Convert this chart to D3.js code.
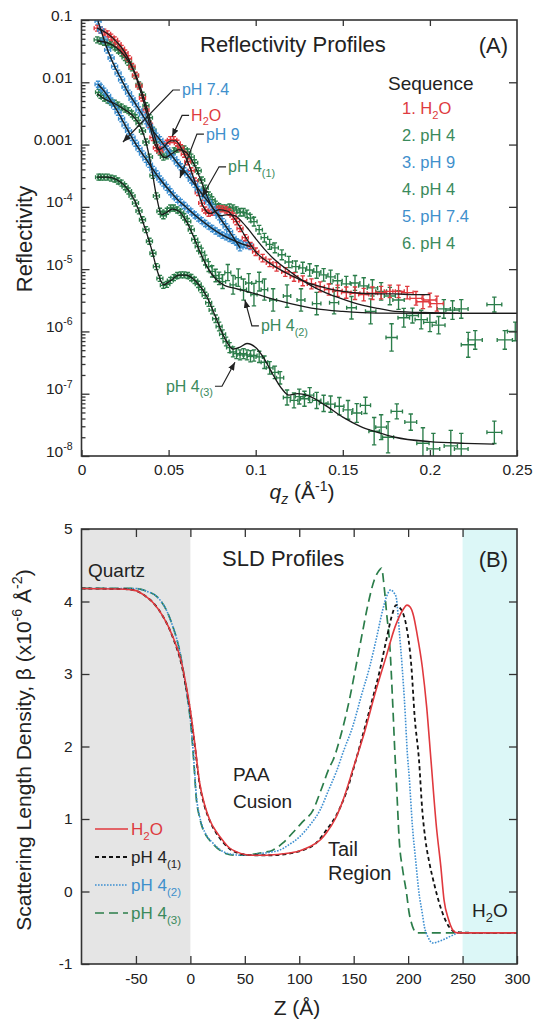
<!DOCTYPE html>
<html><head><meta charset="utf-8">
<script src="https://cdn.jsdelivr.net/npm/d3@7"></script>
<style>
body{margin:0;background:#fff}
svg{display:block}
text{font-family:"Liberation Sans",Arial,Helvetica,sans-serif;fill:#222}
</style></head>
<body><svg id="c" width="538" height="1026"></svg>
<script>
// ---------------- DATA : Reflectivity (q in 1/Å, R, error in decades) ----------------
const h2oData = [[0.009,7.4e-2,.02],[0.011,6.9e-2,.02],[0.013,6.4e-2,.02],[0.015,6.0e-2,.02],[0.017,5.3e-2,.02],[0.019,4.8e-2,.02],[0.021,4.1e-2,.02],[0.023,3.5e-2,.02],[0.025,2.95e-2,.02],[0.027,2.4e-2,.02],[0.029,1.8e-2,.02],[0.031,1.3e-2,.02],[0.033,8.7e-3,.02],[0.035,5.6e-3,.02],[0.037,3.6e-3,.02],[0.039,2.1e-3,.03],[0.041,1.3e-3,.03],[0.043,8.9e-4,.03],[0.045,7.9e-4,.03],[0.047,9.2e-4,.03],[0.049,1.05e-3,.03],[0.051,1.2e-3,.03],[0.053,1.2e-3,.03],[0.055,1.05e-3,.03],[0.057,8.9e-4,.03],[0.059,7.0e-4,.03],[0.061,5.3e-4,.03],[0.063,3.8e-4,.03],[0.065,2.6e-4,.04],[0.067,1.7e-4,.04],[0.069,1.15e-4,.04],[0.071,8.9e-5,.04],[0.073,7.9e-5,.04],[0.075,8.2e-5,.04],[0.077,8.9e-5,.04],[0.079,9.3e-5,.04],[0.081,9.3e-5,.04],[0.083,8.9e-5,.04],[0.085,8.2e-5,.05],[0.087,7.1e-5,.05],[0.089,5.8e-5,.05],[0.091,4.5e-5,.05],[0.094,3.2e-5,.05],[0.097,2.4e-5,.05],[0.100,1.9e-5,.06],[0.104,1.5e-5,.06],[0.108,1.26e-5,.06],[0.112,1.09e-5,.07],[0.117,9.0e-6,.07],[0.122,7.5e-6,.07],[0.127,6.5e-6,.08],[0.132,5.8e-6,.08],[0.137,5.2e-6,.08],[0.142,4.7e-6,.09],[0.147,4.5e-6,.09],[0.152,4.2e-6,.09],[0.157,4.1e-6,.1],[0.162,3.9e-6,.1],[0.167,4.1e-6,.1],[0.172,4.2e-6,.1],[0.177,4.4e-6,.1],[0.182,4.4e-6,.1],[0.187,4.2e-6,.1],[0.192,3.4e-6,.11],[0.196,3.0e-6,.11],[0.200,3.2e-6,.11],[0.204,2.8e-6,.12]];
const ph4aData = [[0.009,4.8e-2,.02],[0.011,4.6e-2,.02],[0.013,4.4e-2,.02],[0.015,4.3e-2,.02],[0.017,4.0e-2,.02],[0.019,3.7e-2,.02],[0.021,3.3e-2,.02],[0.023,2.95e-2,.02],[0.025,2.5e-2,.02],[0.027,2.1e-2,.02],[0.029,1.7e-2,.02],[0.031,1.27e-2,.02],[0.033,9.1e-3,.02],[0.035,6.2e-3,.02],[0.037,4.2e-3,.02],[0.039,2.7e-3,.03],[0.041,1.7e-3,.03],[0.043,1.1e-3,.03],[0.045,7.6e-4,.03],[0.047,6.3e-4,.03],[0.049,6.6e-4,.03],[0.051,7.1e-4,.03],[0.053,7.9e-4,.03],[0.055,8.5e-4,.03],[0.057,8.9e-4,.03],[0.059,8.5e-4,.03],[0.061,7.6e-4,.03],[0.063,6.3e-4,.03],[0.065,5.1e-4,.04],[0.067,3.8e-4,.04],[0.069,2.7e-4,.04],[0.071,2.0e-4,.04],[0.073,1.55e-4,.04],[0.075,1.3e-4,.04],[0.077,1.1e-4,.05],[0.079,1.0e-4,.05],[0.081,9.6e-5,.05],[0.083,9.6e-5,.05],[0.085,9.9e-5,.05],[0.087,9.6e-5,.05],[0.089,8.9e-5,.05],[0.091,8.2e-5,.06],[0.093,8.2e-5,.06],[0.095,7.7e-5,.06],[0.097,6.6e-5,.06],[0.099,5.8e-5,.07],[0.102,4.3e-5,.07],[0.105,3.2e-5,.07],[0.108,2.5e-5,.08],[0.111,2.2e-5,.08],[0.115,1.7e-5,.08],[0.119,1.3e-5,.09],[0.123,1.1e-5,.09],[0.127,1.05e-5,.09],[0.131,9.7e-6,.1],[0.135,9.0e-6,.1],[0.139,8.1e-6,.1],[0.143,7.5e-6,.11],[0.147,6.5e-6,.11],[0.152,5.8e-6,.12],[0.157,6.0e-6,.12],[0.162,5.4e-6,.13],[0.167,5.0e-6,.13],[0.172,4.4e-6,.14],[0.177,3.7e-6,.14],[0.182,3.2e-6,.15],[0.208,2.3e-6,.15],[0.213,2.2e-6,.15],[0.218,2.3e-6,.15]];
const ph9Data = [[0.0095,9.6e-2,.02],[0.011,6.9e-2,.02],[0.013,4.8e-2,.02],[0.015,3.3e-2,.02],[0.017,2.45e-2,.02],[0.019,1.8e-2,.02],[0.021,1.4e-2,.02],[0.023,1.1e-2,.02],[0.025,8.4e-3,.02],[0.027,6.7e-3,.02],[0.029,5.4e-3,.02],[0.031,4.5e-3,.02],[0.033,3.6e-3,.02],[0.035,3.0e-3,.02],[0.037,2.4e-3,.02],[0.039,2.0e-3,.02],[0.041,1.65e-3,.02],[0.043,1.37e-3,.02],[0.045,1.2e-3,.02],[0.047,1.0e-3,.02],[0.049,8.5e-4,.02],[0.051,7.1e-4,.02],[0.053,6.1e-4,.02],[0.055,5.1e-4,.02],[0.057,4.4e-4,.02],[0.059,3.8e-4,.02],[0.061,3.3e-4,.02],[0.063,2.7e-4,.02],[0.065,2.3e-4,.03],[0.067,1.9e-4,.03],[0.069,1.65e-4,.03],[0.071,1.4e-4,.03],[0.073,1.2e-4,.03],[0.075,1.0e-4,.03],[0.077,8.2e-5,.03],[0.079,6.9e-5,.03],[0.081,5.8e-5,.04],[0.083,4.8e-5,.04],[0.085,4.0e-5,.04],[0.087,3.2e-5,.04],[0.089,2.7e-5,.04],[0.091,2.2e-5,.04]];
const ph74Data = [[0.0095,9.3e-3,.02],[0.011,8.3e-3,.02],[0.013,7.2e-3,.02],[0.015,6.1e-3,.02],[0.017,5.0e-3,.02],[0.019,4.1e-3,.02],[0.021,3.3e-3,.02],[0.023,2.6e-3,.02],[0.025,2.05e-3,.02],[0.027,1.65e-3,.02],[0.029,1.3e-3,.02],[0.031,1.05e-3,.02],[0.033,8.6e-4,.02],[0.035,7.1e-4,.02],[0.037,5.8e-4,.02],[0.039,4.8e-4,.02],[0.041,4.0e-4,.02],[0.043,3.4e-4,.02],[0.045,2.8e-4,.02],[0.047,2.4e-4,.02],[0.049,2.05e-4,.02],[0.051,1.75e-4,.02],[0.053,1.5e-4,.02],[0.055,1.32e-4,.02],[0.057,1.18e-4,.02],[0.059,1.05e-4,.03],[0.061,9.3e-5,.03],[0.063,8.3e-5,.03],[0.065,7.4e-5,.03],[0.067,6.6e-5,.03],[0.069,6.0e-5,.03],[0.071,5.4e-5,.03],[0.073,4.9e-5,.03],[0.075,4.5e-5,.03],[0.077,4.1e-5,.03],[0.079,3.8e-5,.04],[0.081,3.5e-5,.04],[0.083,3.3e-5,.04],[0.085,3.1e-5,.04],[0.087,2.9e-5,.04],[0.089,2.75e-5,.04],[0.091,2.6e-5,.04],[0.093,2.5e-5,.04],[0.095,2.4e-5,.04],[0.097,2.3e-5,.04]];
const ph4bData = [[0.0098,6.9e-3,.02],[0.011,6.2e-3,.02],[0.013,5.6e-3,.02],[0.015,5.2e-3,.02],[0.017,4.8e-3,.02],[0.019,4.6e-3,.02],[0.021,4.3e-3,.02],[0.023,4.0e-3,.02],[0.025,3.7e-3,.02],[0.027,3.5e-3,.02],[0.029,3.1e-3,.02],[0.031,2.7e-3,.02],[0.033,2.2e-3,.02],[0.035,1.65e-3,.02],[0.037,1.1e-3,.03],[0.039,6.3e-4,.03],[0.041,3.2e-4,.03],[0.043,1.5e-4,.04],[0.045,8.5e-5,.04],[0.047,7.2e-5,.04],[0.049,8.5e-5,.04],[0.051,9.6e-5,.04],[0.053,9.6e-5,.04],[0.055,8.9e-5,.04],[0.057,8.2e-5,.05],[0.059,6.9e-5,.05],[0.061,5.8e-5,.05],[0.063,4.3e-5,.06],[0.065,3.0e-5,.06],[0.067,2.3e-5,.07],[0.069,1.85e-5,.07],[0.071,1.4e-5,.08],[0.073,1.1e-5,.08],[0.075,9.2e-6,.09],[0.077,7.9e-6,.1],[0.079,7.1e-6,.1],[0.081,6.3e-6,.11],[0.084,8.8e-6,.13],[0.087,5.6e-6,.15],[0.090,7.3e-6,.14],[0.093,4.7e-6,.17],[0.096,6.0e-6,.15],[0.099,3.9e-6,.18],[0.102,6.3e-6,.15],[0.105,4.7e-6,.17],[0.110,3.2e-6,.18],[0.118,3.7e-6,.18],[0.126,3.2e-6,.18],[0.135,2.8e-6,.18],[0.145,2.9e-6,.18],[0.155,2.4e-6,.18],[0.166,2.1e-6,.2],[0.178,8.0e-7,.22],[0.185,1.66e-6,.15],[0.190,1.8e-6,.12],[0.195,1.55e-6,.15],[0.200,1.4e-6,.15],[0.205,1.26e-6,.14],[0.222,6.1e-7,.2],[0.226,7.3e-7,.15],[0.237,2.7e-6,.12],[0.243,7.3e-7,.15],[0.249,1.0e-6,.15]];
const ph4cData = [[0.0098,3.0e-4,.02],[0.011,3.0e-4,.02],[0.013,3.0e-4,.02],[0.015,3.0e-4,.02],[0.017,2.9e-4,.02],[0.019,2.8e-4,.02],[0.021,2.6e-4,.02],[0.023,2.4e-4,.02],[0.025,2.1e-4,.02],[0.027,1.8e-4,.02],[0.029,1.5e-4,.02],[0.031,1.15e-4,.02],[0.033,8.6e-5,.02],[0.035,6.2e-5,.03],[0.037,4.3e-5,.03],[0.039,2.8e-5,.03],[0.041,1.8e-5,.03],[0.043,1.1e-5,.04],[0.045,7.1e-6,.04],[0.047,5.5e-6,.04],[0.049,5.7e-6,.04],[0.051,6.6e-6,.04],[0.053,7.3e-6,.04],[0.055,7.9e-6,.04],[0.057,8.1e-6,.04],[0.059,8.1e-6,.04],[0.061,7.9e-6,.04],[0.063,7.3e-6,.05],[0.065,6.6e-6,.05],[0.067,5.7e-6,.05],[0.069,4.7e-6,.05],[0.071,3.8e-6,.05],[0.073,2.9e-6,.06],[0.075,2.2e-6,.06],[0.077,1.6e-6,.06],[0.079,1.2e-6,.07],[0.081,9.0e-7,.07],[0.083,6.9e-7,.07],[0.085,5.5e-7,.08],[0.087,4.7e-7,.08],[0.089,4.4e-7,.08],[0.091,4.2e-7,.08],[0.093,4.4e-7,.08],[0.095,4.2e-7,.08],[0.097,4.0e-7,.09],[0.099,4.1e-7,.09],[0.102,3.9e-7,.09],[0.105,3.2e-7,.1],[0.108,2.6e-7,.1],[0.111,2.2e-7,.1],[0.114,1.8e-7,.1],[0.118,8.7e-8,.12],[0.122,7.8e-8,.12],[0.125,9.0e-8,.12],[0.128,8.3e-8,.12],[0.131,9.5e-8,.12],[0.135,7.8e-8,.13],[0.139,7.0e-8,.13],[0.143,6.8e-8,.13],[0.148,6.3e-8,.14],[0.153,5.5e-8,.15],[0.158,4.9e-8,.15],[0.163,6.5e-8,.13],[0.168,2.5e-8,.22],[0.172,2.9e-8,.2],[0.176,2.0e-8,.25],[0.181,5.2e-8,.12],[0.189,3.5e-8,.13],[0.196,1.6e-8,.25],[0.202,1.3e-8,.25],[0.212,1.45e-8,.25],[0.218,1.3e-8,.25],[0.237,2.4e-8,.18]];

// fits (q, R)
const h2oFit = [[0.009,7.4e-2],[0.015,6.0e-2],[0.02,4.5e-2],[0.025,3.0e-2],[0.03,1.55e-2],[0.034,7e-3],[0.038,2.8e-3],[0.041,1.3e-3],[0.044,8.3e-4],[0.047,9.0e-4],[0.051,1.15e-3],[0.054,1.15e-3],[0.058,8e-4],[0.062,4.5e-4],[0.066,2.1e-4],[0.07,1.0e-4],[0.074,7.8e-5],[0.079,9e-5],[0.084,8.5e-5],[0.089,5.8e-5],[0.095,3.0e-5],[0.1,1.9e-5],[0.11,1.15e-5],[0.12,8e-6],[0.13,6.0e-6],[0.14,5.0e-6],[0.15,4.4e-6],[0.16,4.1e-6],[0.17,4.0e-6],[0.18,4.0e-6],[0.19,3.9e-6],[0.2,3.9e-6]];
const ph4aFit = [[0.009,4.6e-2],[0.015,4.3e-2],[0.02,3.6e-2],[0.025,2.6e-2],[0.03,1.55e-2],[0.034,8e-3],[0.038,3.4e-3],[0.042,1.35e-3],[0.045,7.5e-4],[0.048,6.2e-4],[0.052,7.2e-4],[0.056,8.3e-4],[0.06,7.5e-4],[0.064,5.2e-4],[0.068,2.9e-4],[0.072,1.5e-4],[0.076,9e-5],[0.08,7.2e-5],[0.084,7.5e-5],[0.088,7.2e-5],[0.092,5.8e-5],[0.096,4.3e-5],[0.1,3.1e-5],[0.105,2.1e-5],[0.11,1.5e-5],[0.12,9e-6],[0.13,5.8e-6],[0.14,4.2e-6],[0.15,3.3e-6],[0.16,2.7e-6],[0.17,2.35e-6],[0.18,2.1e-6],[0.2,2.0e-6],[0.22,1.95e-6],[0.25,1.95e-6]];
const ph9Fit = [[0.0095,9.6e-2],[0.012,5.8e-2],[0.015,3.3e-2],[0.019,1.8e-2],[0.023,1.1e-2],[0.027,6.7e-3],[0.031,4.5e-3],[0.035,3.0e-3],[0.04,1.8e-3],[0.045,1.2e-3],[0.05,7.8e-4],[0.055,5.1e-4],[0.06,3.5e-4],[0.065,2.3e-4],[0.07,1.5e-4],[0.075,1.0e-4],[0.08,6.3e-5],[0.085,4.0e-5],[0.091,2.2e-5]];
const ph74Fit = [[0.0095,9.3e-3],[0.013,7.2e-3],[0.017,5.0e-3],[0.021,3.3e-3],[0.025,2.05e-3],[0.03,1.15e-3],[0.035,7.1e-4],[0.04,4.4e-4],[0.045,2.8e-4],[0.05,1.9e-4],[0.055,1.32e-4],[0.06,9.9e-5],[0.065,7.4e-5],[0.07,5.7e-5],[0.075,4.5e-5],[0.08,3.65e-5],[0.085,3.1e-5],[0.09,2.7e-5],[0.097,2.3e-5]];
const ph4bFit = [[0.009,6.5e-3],[0.015,5.1e-3],[0.02,4.4e-3],[0.025,3.6e-3],[0.03,2.8e-3],[0.034,1.9e-3],[0.037,1.1e-3],[0.04,4.5e-4],[0.043,1.5e-4],[0.046,7.5e-5],[0.049,8.2e-5],[0.052,9.2e-5],[0.056,8.5e-5],[0.06,6e-5],[0.064,3.5e-5],[0.068,1.9e-5],[0.072,1.1e-5],[0.077,7e-6],[0.082,5.5e-6],[0.087,5.0e-6],[0.092,4.6e-6],[0.1,4.0e-6],[0.11,3.3e-6],[0.12,2.8e-6],[0.135,2.3e-6],[0.15,2.1e-6],[0.17,1.97e-6],[0.2,1.95e-6],[0.25,1.95e-6]];
const ph4cFit = [[0.009,3.0e-4],[0.015,3.0e-4],[0.02,2.75e-4],[0.025,2.15e-4],[0.03,1.35e-4],[0.035,6.0e-5],[0.04,2.2e-5],[0.044,8.5e-6],[0.047,5.6e-6],[0.051,6.5e-6],[0.056,8e-6],[0.06,8e-6],[0.066,6.2e-6],[0.072,3.6e-6],[0.077,1.7e-6],[0.082,8e-7],[0.087,5.2e-7],[0.091,5.6e-7],[0.095,6.4e-7],[0.1,5.5e-7],[0.105,3.6e-7],[0.11,2.0e-7],[0.115,1.2e-7],[0.119,9.5e-8],[0.124,1.0e-7],[0.13,9.3e-8],[0.14,6.5e-8],[0.15,4.2e-8],[0.16,3.0e-8],[0.17,2.4e-8],[0.18,2.0e-8],[0.2,1.7e-8],[0.22,1.6e-8],[0.237,1.55e-8]];

const qTicks = [0,0.05,0.1,0.15,0.2,0.25];
const qTickLabels = ["0","0.05","0.1","0.15","0.2","0.25"];
const rTicks = [1e-8,1e-7,1e-6,1e-5,1e-4,1e-3,1e-2,1e-1];
const rTickLabels = ["10^{-8}","10^{-7}","10^{-6}","10^{-5}","10^{-4}","0.001","0.01","0.1"];
const sequence = ["1. H_{2}O","2. pH 4","3. pH 9","4. pH 4","5. pH 7.4","6. pH 4"];

// ---------------- DATA : SLD profiles (z in Å, SLD x1e-6 Å^-2) ----------------
const sldH2O = [[-100,4.18],[-60,4.17],[-50,4.15],[-46,4.12],[-40,4.06],[-34,3.98],[-25,3.79],[-16,3.51],[-8,3.15],[-4,2.85],[0,2.5],[4,2.05],[8.5,1.5],[13,1.2],[18,0.98],[24,0.82],[30,0.7],[36,0.6],[42,0.55],[50,0.51],[57,0.5],[70,0.5],[85,0.52],[100,0.56],[110,0.62],[120,0.72],[125,0.81],[133,1.0],[140,1.25],[150,1.72],[160,2.2],[170,2.75],[180,3.25],[188,3.65],[195,3.88],[199,3.95],[202,3.92],[205,3.8],[208,3.57],[213,3.1],[217,2.55],[221,1.81],[226,0.89],[230,0.35],[233,-0.12],[237,-0.38],[241,-0.53],[245,-0.57],[260,-0.57],[300,-0.57]];
const sldPh4a = [[-100,4.18],[-60,4.17],[-50,4.15],[-46,4.12],[-40,4.06],[-34,3.98],[-25,3.79],[-16,3.5],[-8,3.12],[-4,2.82],[0,2.48],[4,2.02],[8.5,1.48],[13,1.18],[18,0.97],[24,0.8],[30,0.68],[36,0.59],[42,0.54],[50,0.51],[60,0.5],[75,0.5],[90,0.52],[105,0.58],[115,0.66],[125,0.85],[134,1.05],[143,1.36],[152,1.81],[160,2.25],[167,2.64],[174,3.05],[180,3.47],[185,3.8],[189,3.95],[192,3.92],[195,3.85],[198.5,3.65],[203,3.1],[206,2.41],[210,1.81],[213,1.12],[216,0.7],[219.6,0.39],[224,0.1],[228.6,-0.16],[233,-0.35],[237.7,-0.49],[244,-0.56],[260,-0.57],[300,-0.57]];
const sldPh4b = [[-100,4.18],[-50,4.18],[-46,4.17],[-40,4.14],[-31,4.07],[-22,3.88],[-16,3.65],[-10,3.33],[-6,3.0],[-2,2.6],[0,2.38],[3,1.85],[5.6,1.3],[8,1.07],[11.3,0.89],[15,0.77],[20.6,0.67],[27,0.58],[33,0.53],[40,0.51],[45,0.5],[55,0.5],[63.6,0.52],[72,0.54],[82,0.57],[90,0.64],[100,0.75],[110,0.92],[119,1.12],[127,1.4],[134,1.65],[141,1.95],[149,2.27],[157,2.7],[164.7,3.1],[171,3.5],[176.6,3.88],[181,4.1],[184,4.16],[187,4.12],[189,4.06],[192,3.57],[194.5,3.1],[196.6,2.64],[199.5,1.86],[201,1.58],[204,0.89],[207,0.42],[210,-0.02],[213,-0.3],[215,-0.49],[218,-0.62],[222.5,-0.71],[226,-0.7],[231.6,-0.67],[240,-0.61],[247,-0.57],[260,-0.57],[300,-0.57]];
const sldPh4c = [[-100,4.18],[-50,4.18],[-46,4.17],[-40,4.14],[-31,4.07],[-22,3.88],[-16,3.65],[-10,3.33],[-6,3.0],[-2,2.6],[0,2.36],[3,1.82],[5.6,1.26],[8,1.05],[11.3,0.87],[15,0.76],[20.6,0.66],[27,0.57],[33,0.52],[40,0.5],[50,0.5],[60,0.52],[68,0.54],[75.6,0.57],[85,0.67],[94,0.81],[103,0.96],[112.6,1.12],[120,1.4],[128,1.72],[131,1.81],[139,2.2],[146,2.64],[152,3.1],[158,3.57],[163,3.95],[169,4.3],[173,4.42],[175.6,4.46],[178,4.2],[180.5,3.8],[183,3.43],[186,2.54],[188,1.86],[189,1.58],[192,0.67],[195,0.3],[198.5,-0.02],[201,-0.3],[203,-0.43],[205,-0.52],[207.6,-0.57],[260,-0.57],[300,-0.57]];
const zTicks = [-50,0,50,100,150,200,250,300];
const sldTicks = [-1,0,1,2,3,4,5];
const sldLegend = ["H_{2}O","pH 4_{(1)}","pH 4_{(2)}","pH 4_{(3)}"];

// ---------------- STYLE ----------------
const RED="#e0393e", GREEN="#2b7d4a", BLUE="#3d8fd1", GTXT="#3a8a5c", BTXT="#3f90cc", RTXT="#de3b40";
const AX="#333";
const qRes = 0.018;

const svg = d3.select("#c");
const defs = svg.append("defs");
defs.append("marker").attr("id","arr").attr("viewBox","0 0 10 8").attr("refX",10).attr("refY",4)
  .attr("markerWidth",8).attr("markerHeight",6.4).attr("markerUnits","userSpaceOnUse").attr("orient","auto")
  .append("path").attr("d","M0,0L10,4L0,8Z").attr("fill","#222");

function rich(t, s, size){
  t.text(null);
  const re=/([_^])\{([^}]*)\}/g; let last=0, m, cur=0;
  const add=(str,off,small)=>{ if(!str) return; const sp=t.append("tspan").attr("dy",off-cur).text(str); if(small) sp.attr("font-size",size*0.68); cur=off; };
  while((m=re.exec(s))){ add(s.slice(last,m.index),0,false); add(m[2], m[1]==="_"? size*0.28 : -size*0.42, true); last=re.lastIndex; }
  add(s.slice(last),0,false);
}

// ================= TOP PANEL =================
const L=81.5, R=517, T1=20, B1=456;
const x = d3.scaleLinear().domain([0,0.25]).range([L,R]);
const y = d3.scaleLog().domain([1e-8,0.1]).range([B1,T1]);

defs.append("clipPath").attr("id","clipA").append("rect").attr("x",L).attr("y",T1).attr("width",R-L).attr("height",B1-T1);
const gA = svg.append("g");
const plotA = gA.append("g").attr("clip-path","url(#clipA)");

function drawData(data,color){
  const g = plotA.append("g").attr("stroke",color).attr("stroke-width",1.35).attr("fill","none");
  data.forEach(([q,r,e])=>{
    const cx=x(q), cy=y(r);
    let y0=y(r*Math.pow(10,e)), y1=y(r/Math.pow(10,e));
    y0=Math.min(y0,cy-3); y1=Math.max(y1,cy+3);
    let x0=x(q*(1-qRes)), x1=x(q*(1+qRes));
    x0=Math.min(x0,cx-3); x1=Math.max(x1,cx+3);
    g.append("path").attr("d",`M${cx},${y0}V${y1}M${x0},${cy}H${x1}`+
      `M${cx-2.2},${y0}H${cx+2.2}M${cx-2.2},${y1}H${cx+2.2}M${x0},${cy-2}V${cy+2}M${x1},${cy-2}V${cy+2}`);
  });
}
drawData(ph4cData,GREEN);
drawData(ph4bData,GREEN);
drawData(ph74Data,BLUE);
drawData(ph4aData,GREEN);
drawData(h2oData,RED);
drawData(ph9Data,BLUE);

const fitLine = d3.line().x(d=>x(d[0])).y(d=>y(d[1])).curve(d3.curveMonotoneX);
[h2oFit,ph4aFit,ph9Fit,ph74Fit,ph4bFit,ph4cFit].forEach(f=>{
  plotA.append("path").attr("d",fitLine(f)).attr("fill","none").attr("stroke","#1a1a1a").attr("stroke-width",1.3);
});

// axes
const axL = gA.append("g").attr("transform",`translate(${L},0)`)
  .call(d3.axisLeft(y).tickValues(rTicks).tickSizeInner(-8).tickSizeOuter(0).tickPadding(9).tickFormat((d,i)=>rTickLabels[i]));
axL.selectAll(".tick text").attr("font-size",15.5).each(function(d,i){ rich(d3.select(this), rTickLabels[i], 15.5); });
const minor = y.ticks().filter(v=>Math.abs(Math.log10(v)-Math.round(Math.log10(v)))>1e-6);
gA.append("g").attr("transform",`translate(${L},0)`).call(d3.axisLeft(y).tickValues(minor).tickSizeInner(-4).tickSizeOuter(0).tickFormat(""));
gA.append("g").attr("transform",`translate(${R},0)`).call(d3.axisRight(y).tickValues(rTicks.slice(1,-1)).tickSizeInner(-8).tickSizeOuter(0).tickFormat(""));
const axB = gA.append("g").attr("transform",`translate(0,${B1})`)
  .call(d3.axisBottom(x).tickValues(qTicks).tickSizeInner(-6).tickSizeOuter(0).tickPadding(8).tickFormat((d,i)=>qTickLabels[i]));
axB.selectAll(".tick text").attr("font-size",15.5);
gA.append("g").attr("transform",`translate(0,${T1})`).call(d3.axisTop(x).tickValues(qTicks.slice(1,-1)).tickSizeInner(-6).tickSizeOuter(0).tickFormat(""));
gA.selectAll(".domain").remove();
gA.selectAll(".tick line").attr("stroke",AX).attr("stroke-width",1.3);
gA.selectAll(".tick text").attr("fill","#222").attr("font-family",'"Liberation Sans",Arial,sans-serif');
gA.append("rect").attr("x",L).attr("y",T1).attr("width",R-L).attr("height",B1-T1).attr("fill","none").attr("stroke",AX).attr("stroke-width",1.6);

// titles
gA.append("text").attr("x",200).attr("y",52).attr("font-size",22).text("Reflectivity Profiles");
gA.append("text").attr("x",508).attr("y",53).attr("font-size",22).attr("text-anchor","end").text("(A)");
gA.append("text").attr("x",388).attr("y",90).attr("font-size",19).text("Sequence");
const seqColors=[RTXT,GTXT,BTXT,GTXT,BTXT,GTXT];
sequence.forEach((s,i)=>{ const t=gA.append("text").attr("x",402).attr("y",114+i*26.9).attr("font-size",16.5).attr("fill",seqColors[i]); rich(t,s,16.5); t.selectAll("tspan").attr("fill",seqColors[i]); });

// axis titles
gA.append("text").attr("transform",`translate(32,239) rotate(-90)`).attr("text-anchor","middle").attr("font-size",22).text("Reflectivity");
const qt = gA.append("text").attr("x",302).attr("y",499).attr("text-anchor","middle").attr("font-size",21);
qt.append("tspan").attr("font-style","italic").text("q");
qt.append("tspan").attr("font-style","italic").attr("font-size",14).attr("dy",5).text("z");
qt.append("tspan").attr("dy",-5).text(" (Å");
qt.append("tspan").attr("font-size",14).attr("dy",-8).text("-1");
qt.append("tspan").attr("dy",8).text(")");

// annotations: arrow tip in data units, elbow offset in px
const annotations = [
  {label:"pH 7.4", color:BTXT, tip:[0.0238,1.1e-3], d:[50,-52], dir:1},
  {label:"H_{2}O", color:RTXT, tip:[0.052,1.35e-3], d:[10,-21], dir:1},
  {label:"pH 9", color:BTXT, tip:[0.0565,2.9e-4], d:[17,-44], dir:1},
  {label:"pH 4_{(1)}", color:GTXT, tip:[0.0692,1.45e-4], d:[17,-30], dir:1},
  {label:"pH 4_{(2)}", color:GTXT, tip:[0.0938,3.2e-6], d:[7,26], dir:1},
  {label:"pH 4_{(3)}", color:GTXT, tip:[0.0881,3.2e-7], d:[-13,24], dir:-1}
];
annotations.forEach(a=>{
  const tx=x(a.tip[0]), ty=y(a.tip[1]);
  const ex=tx+a.d[0], ey=ty+a.d[1];
  const hx=ex+7*a.dir;
  gA.append("path").attr("d",`M${hx},${ey}L${ex},${ey}L${tx},${ty}`).attr("fill","none").attr("stroke","#222").attr("stroke-width",1.2).attr("marker-end","url(#arr)");
  const t=gA.append("text").attr("x",hx+2*a.dir).attr("y",ey+5.5).attr("font-size",16).attr("fill",a.color).attr("text-anchor",a.dir>0?"start":"end");
  rich(t,a.label,16); t.selectAll("tspan").attr("fill",a.color);
});

// ================= BOTTOM PANEL =================
const T2=529, B2=964;
const xb = d3.scaleLinear().domain([-100,300]).range([L,R]);
const yb = d3.scaleLinear().domain([-1,5]).range([B2,T2]);
const gB = svg.append("g");
gB.append("rect").attr("x",xb(-100)).attr("y",T2).attr("width",xb(0)-xb(-100)).attr("height",B2-T2).attr("fill","#e5e5e5");
gB.append("rect").attr("x",xb(250)).attr("y",T2).attr("width",xb(300)-xb(250)).attr("height",B2-T2).attr("fill","#dcf7f7");

const sldLine = d3.line().x(d=>xb(d[0])).y(d=>yb(d[1])).curve(d3.curveMonotoneX);
const sldStyles = [
  {data:sldPh4c, color:GREEN, w:1.7, dash:"9,5"},
  {data:sldPh4b, color:BLUE, w:1.6, dash:"1.6,1.4"},
  {data:sldPh4a, color:"#111", w:1.8, dash:"4,3"},
  {data:sldH2O, color:RED, w:1.6, dash:null}
];
sldStyles.forEach(s=>{
  const p=gB.append("path").attr("d",sldLine(s.data)).attr("fill","none").attr("stroke",s.color).attr("stroke-width",s.w);
  if(s.dash) p.attr("stroke-dasharray",s.dash);
});

const bL = gB.append("g").attr("transform",`translate(${L},0)`).call(d3.axisLeft(yb).tickValues(sldTicks).tickSizeInner(-8).tickSizeOuter(0).tickPadding(9).tickFormat(d3.format("d")));
gB.append("g").attr("transform",`translate(${R},0)`).call(d3.axisRight(yb).tickValues(sldTicks.slice(1,-1)).tickSizeInner(-8).tickSizeOuter(0).tickFormat(""));
const bB = gB.append("g").attr("transform",`translate(0,${B2})`).call(d3.axisBottom(xb).tickValues(zTicks).tickSizeInner(-8).tickSizeOuter(0).tickPadding(9).tickFormat(d3.format("d")));
gB.append("g").attr("transform",`translate(0,${T2})`).call(d3.axisTop(xb).tickValues(zTicks.slice(0,-1)).tickSizeInner(-8).tickSizeOuter(0).tickFormat(""));
gB.selectAll(".domain").remove();
gB.selectAll(".tick line").attr("stroke",AX).attr("stroke-width",1.3);
gB.selectAll(".tick text").attr("font-size",15.5).attr("fill","#222").attr("font-family",'"Liberation Sans",Arial,sans-serif');
gB.selectAll(".tick text").text(function(){ return d3.select(this).text().replace("−","-"); });
gB.append("rect").attr("x",L).attr("y",T2).attr("width",R-L).attr("height",B2-T2).attr("fill","none").attr("stroke",AX).attr("stroke-width",1.6);

gB.append("text").attr("x",222).attr("y",566).attr("font-size",22).text("SLD Profiles");
gB.append("text").attr("x",508).attr("y",567).attr("font-size",22).attr("text-anchor","end").text("(B)");
gB.append("text").attr("x",88).attr("y",577).attr("font-size",19).text("Quartz");
gB.append("text").attr("x",233).attr("y",781).attr("font-size",19).text("PAA");
gB.append("text").attr("x",233).attr("y",808).attr("font-size",19).text("Cusion");
gB.append("text").attr("x",328).attr("y",856).attr("font-size",20).text("Tail");
gB.append("text").attr("x",328).attr("y",880).attr("font-size",20).text("Region");
rich(gB.append("text").attr("x",472).attr("y",917).attr("font-size",19),"H_{2}O",19);

// legend
sldLegend.forEach((s,i)=>{
  const st = sldStyles[3-i];
  const yy = 829+i*28;
  const ln=gB.append("line").attr("x1",95).attr("x2",128).attr("y1",yy).attr("y2",yy).attr("stroke",st.color).attr("stroke-width",st.w);
  if(st.dash) ln.attr("stroke-dasharray",st.dash);
  const col = i===0?RTXT:(i===1?"#222":(i===2?BTXT:GTXT));
  const t=gB.append("text").attr("x",131).attr("y",yy+6).attr("font-size",17).attr("fill",col);
  rich(t,s,17); t.selectAll("tspan").attr("fill",col);
});

gB.append("text").attr("transform",`translate(31,750) rotate(-90)`).attr("text-anchor","middle").attr("font-size",21)
  .call(t=>rich(t,"Scattering Length Density, β (x10^{-6} Å^{-2})",21));
gB.append("text").attr("x",297).attr("y",1015).attr("text-anchor","middle").attr("font-size",21).text("Z (Å)");
</script></body></html>
